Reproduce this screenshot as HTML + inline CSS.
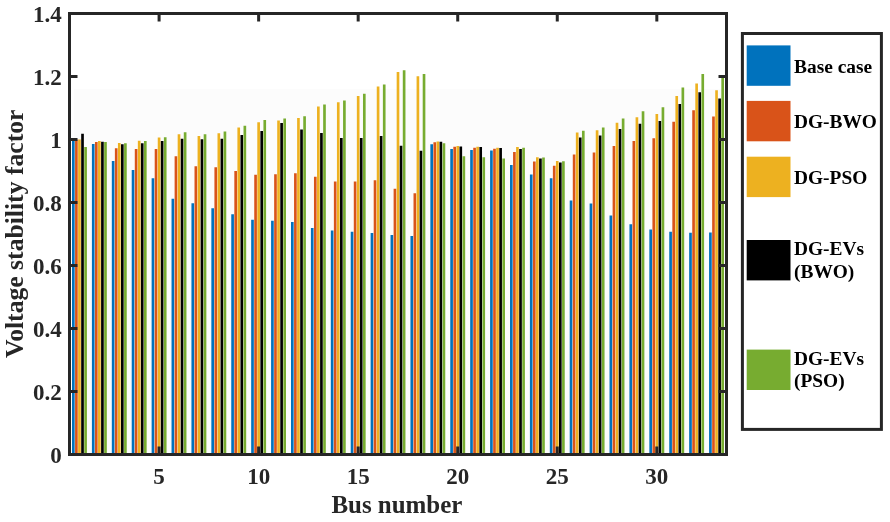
<!DOCTYPE html>
<html><head><meta charset="utf-8"><title>Voltage stability factor</title>
<style>html,body{margin:0;padding:0;background:#fff}svg{display:block}</style></head>
<body><svg width="890" height="522" viewBox="0 0 890 522">
<rect width="890" height="522" fill="#fff"/>
<rect x="74" y="89" width="651" height="365" fill="#fcfcfc"/>
<path fill="#0072BD" d="M72.00 454.5V140.44h2.66V454.5zM91.91 454.5V143.91h2.66V454.5zM111.82 454.5V160.92h2.66V454.5zM131.72 454.5V170.06h2.66V454.5zM151.63 454.5V178.25h2.66V454.5zM171.54 454.5V198.72h2.66V454.5zM191.45 454.5V203.13h2.66V454.5zM211.36 454.5V208.17h2.66V454.5zM231.27 454.5V214.16h2.66V454.5zM251.18 454.5V219.82h2.66V454.5zM271.09 454.5V220.77h2.66V454.5zM291.00 454.5V222.03h2.66V454.5zM310.91 454.5V228.02h2.66V454.5zM330.82 454.5V230.54h2.66V454.5zM350.72 454.5V231.80h2.66V454.5zM370.63 454.5V233.06h2.66V454.5zM390.54 454.5V234.95h2.66V454.5zM410.45 454.5V235.89h2.66V454.5zM430.36 454.5V144.23h2.66V454.5zM450.27 454.5V148.95h2.66V454.5zM470.18 454.5V149.89h2.66V454.5zM490.09 454.5V150.53h2.66V454.5zM510.00 454.5V165.01h2.66V454.5zM529.91 454.5V174.46h2.66V454.5zM549.82 454.5V178.25h2.66V454.5zM569.72 454.5V200.61h2.66V454.5zM589.63 454.5V203.44h2.66V454.5zM609.54 454.5V215.41h2.66V454.5zM629.45 454.5V224.24h2.66V454.5zM649.36 454.5V229.59h2.66V454.5zM669.27 454.5V231.80h2.66V454.5zM689.18 454.5V232.74h2.66V454.5zM709.09 454.5V232.43h2.66V454.5z"/>
<path fill="#D95319" d="M75.06 454.5V139.50h2.66V454.5zM94.97 454.5V142.02h2.66V454.5zM114.88 454.5V148.32h2.66V454.5zM134.79 454.5V148.95h2.66V454.5zM154.70 454.5V148.95h2.66V454.5zM174.61 454.5V156.19h2.66V454.5zM194.51 454.5V166.27h2.66V454.5zM214.42 454.5V167.22h2.66V454.5zM234.33 454.5V171.00h2.66V454.5zM254.24 454.5V174.78h2.66V454.5zM274.15 454.5V174.15h2.66V454.5zM294.06 454.5V173.20h2.66V454.5zM313.97 454.5V176.67h2.66V454.5zM333.88 454.5V181.39h2.66V454.5zM353.79 454.5V181.39h2.66V454.5zM373.70 454.5V180.13h2.66V454.5zM393.61 454.5V188.64h2.66V454.5zM413.51 454.5V193.37h2.66V454.5zM433.42 454.5V142.33h2.66V454.5zM453.33 454.5V146.75h2.66V454.5zM473.24 454.5V147.69h2.66V454.5zM493.15 454.5V148.63h2.66V454.5zM513.06 454.5V152.10h2.66V454.5zM532.97 454.5V161.55h2.66V454.5zM552.88 454.5V165.64h2.66V454.5zM572.79 454.5V154.62h2.66V454.5zM592.70 454.5V152.42h2.66V454.5zM612.61 454.5V146.12h2.66V454.5zM632.51 454.5V141.07h2.66V454.5zM652.42 454.5V138.24h2.66V454.5zM672.33 454.5V121.86h2.66V454.5zM692.24 454.5V110.20h2.66V454.5zM712.15 454.5V116.50h2.66V454.5z"/>
<path fill="#EDB120" d="M78.12 454.5V139.50h2.66V454.5zM98.03 454.5V141.07h2.66V454.5zM117.94 454.5V142.96h2.66V454.5zM137.85 454.5V140.76h2.66V454.5zM157.76 454.5V137.61h2.66V454.5zM177.67 454.5V134.15h2.66V454.5zM197.58 454.5V136.04h2.66V454.5zM217.49 454.5V133.20h2.66V454.5zM237.40 454.5V127.53h2.66V454.5zM257.30 454.5V122.18h2.66V454.5zM277.21 454.5V120.60h2.66V454.5zM297.12 454.5V118.08h2.66V454.5zM317.03 454.5V106.43h2.66V454.5zM336.94 454.5V102.33h2.66V454.5zM356.85 454.5V96.03h2.66V454.5zM376.76 454.5V86.58h2.66V454.5zM396.67 454.5V72.09h2.66V454.5zM416.58 454.5V76.19h2.66V454.5zM436.49 454.5V141.39h2.66V454.5zM456.40 454.5V146.12h2.66V454.5zM476.30 454.5V146.75h2.66V454.5zM496.21 454.5V147.69h2.66V454.5zM516.12 454.5V147.06h2.66V454.5zM536.03 454.5V157.14h2.66V454.5zM555.94 454.5V160.92h2.66V454.5zM575.85 454.5V132.57h2.66V454.5zM595.76 454.5V130.37h2.66V454.5zM615.67 454.5V122.81h2.66V454.5zM635.58 454.5V117.13h2.66V454.5zM655.49 454.5V113.99h2.66V454.5zM675.40 454.5V96.03h2.66V454.5zM695.30 454.5V83.43h2.66V454.5zM715.21 454.5V90.36h2.66V454.5z"/>
<path fill="#000000" d="M81.19 454.5V133.83h2.66V454.5zM101.10 454.5V141.70h2.66V454.5zM121.00 454.5V144.23h2.66V454.5zM140.91 454.5V143.28h2.66V454.5zM160.82 454.5V141.07h2.66V454.5zM180.73 454.5V138.87h2.66V454.5zM200.64 454.5V139.19h2.66V454.5zM220.55 454.5V138.87h2.66V454.5zM240.46 454.5V135.09h2.66V454.5zM260.37 454.5V131.00h2.66V454.5zM280.28 454.5V123.12h2.66V454.5zM300.19 454.5V129.42h2.66V454.5zM320.10 454.5V132.89h2.66V454.5zM340.00 454.5V137.93h2.66V454.5zM359.91 454.5V137.93h2.66V454.5zM379.82 454.5V136.04h2.66V454.5zM399.73 454.5V145.80h2.66V454.5zM419.64 454.5V150.84h2.66V454.5zM439.55 454.5V141.70h2.66V454.5zM459.46 454.5V146.43h2.66V454.5zM479.37 454.5V147.06h2.66V454.5zM499.28 454.5V148.00h2.66V454.5zM519.19 454.5V148.95h2.66V454.5zM539.10 454.5V158.40h2.66V454.5zM559.00 454.5V162.50h2.66V454.5zM578.91 454.5V137.61h2.66V454.5zM598.82 454.5V135.41h2.66V454.5zM618.73 454.5V129.11h2.66V454.5zM638.64 454.5V123.75h2.66V454.5zM658.55 454.5V120.92h2.66V454.5zM678.46 454.5V103.91h2.66V454.5zM698.37 454.5V92.25h2.66V454.5zM718.28 454.5V98.55h2.66V454.5z"/>
<path fill="#77AC30" d="M84.25 454.5V147.06h2.66V454.5zM104.16 454.5V142.02h2.66V454.5zM124.07 454.5V143.28h2.66V454.5zM143.98 454.5V141.07h2.66V454.5zM163.89 454.5V137.30h2.66V454.5zM183.79 454.5V132.26h2.66V454.5zM203.70 454.5V134.15h2.66V454.5zM223.61 454.5V131.62h2.66V454.5zM243.52 454.5V125.64h2.66V454.5zM263.43 454.5V119.97h2.66V454.5zM283.34 454.5V118.40h2.66V454.5zM303.25 454.5V116.19h2.66V454.5zM323.16 454.5V104.54h2.66V454.5zM343.07 454.5V100.44h2.66V454.5zM362.98 454.5V93.82h2.66V454.5zM382.89 454.5V84.38h2.66V454.5zM402.79 454.5V70.20h2.66V454.5zM422.70 454.5V73.98h2.66V454.5zM442.61 454.5V143.28h2.66V454.5zM462.52 454.5V156.19h2.66V454.5zM482.43 454.5V157.14h2.66V454.5zM502.34 454.5V158.40h2.66V454.5zM522.25 454.5V147.69h2.66V454.5zM542.16 454.5V157.46h2.66V454.5zM562.07 454.5V161.23h2.66V454.5zM581.98 454.5V130.68h2.66V454.5zM601.89 454.5V127.53h2.66V454.5zM621.79 454.5V118.40h2.66V454.5zM641.70 454.5V111.15h2.66V454.5zM661.61 454.5V107.37h2.66V454.5zM681.52 454.5V87.52h2.66V454.5zM701.43 454.5V73.98h2.66V454.5zM721.34 454.5V78.07h2.66V454.5z"/>
<rect x="69.5" y="13.5" width="657.0" height="441.0" fill="none" stroke="#262626" stroke-width="3"/>
<path fill="none" stroke="#262626" stroke-width="3" d="M159.09 454.5v-8M159.09 13.5v8M258.64 454.5v-8M258.64 13.5v8M358.18 454.5v-8M358.18 13.5v8M457.73 454.5v-8M457.73 13.5v8M557.27 454.5v-8M557.27 13.5v8M656.82 454.5v-8M656.82 13.5v8M69.5 454.50h8M726.5 454.50h-8M69.5 391.50h8M726.5 391.50h-8M69.5 328.50h8M726.5 328.50h-8M69.5 265.50h8M726.5 265.50h-8M69.5 202.50h8M726.5 202.50h-8M69.5 139.50h8M726.5 139.50h-8M69.5 76.50h8M726.5 76.50h-8M69.5 13.50h8M726.5 13.50h-8"/>
<g fill="#262626" font-family="'Liberation Serif', 'Times New Roman', serif" font-weight="bold"><text x="159.09" y="484" text-anchor="middle" font-size="23">5</text><text x="258.64" y="484" text-anchor="middle" font-size="23">10</text><text x="358.18" y="484" text-anchor="middle" font-size="23">15</text><text x="457.73" y="484" text-anchor="middle" font-size="23">20</text><text x="557.27" y="484" text-anchor="middle" font-size="23">25</text><text x="656.82" y="484" text-anchor="middle" font-size="23">30</text><text x="61.8" y="462.70" text-anchor="end" font-size="23">0</text><text x="61.8" y="399.70" text-anchor="end" font-size="23">0.2</text><text x="61.8" y="336.70" text-anchor="end" font-size="23">0.4</text><text x="61.8" y="273.70" text-anchor="end" font-size="23">0.6</text><text x="61.8" y="210.70" text-anchor="end" font-size="23">0.8</text><text x="61.8" y="147.70" text-anchor="end" font-size="23">1</text><text x="61.8" y="84.70" text-anchor="end" font-size="23">1.2</text><text x="61.8" y="21.70" text-anchor="end" font-size="23">1.4</text><text x="396.9" y="513" text-anchor="middle" font-size="25" textLength="131" lengthAdjust="spacingAndGlyphs">Bus number</text><text transform="translate(23.2 233.8) rotate(-90)" text-anchor="middle" font-size="25" textLength="248.5" lengthAdjust="spacingAndGlyphs">Voltage stability factor</text></g>
<rect x="742.4" y="33.5" width="139" height="395.9" fill="#fff" stroke="#262626" stroke-width="3"/>
<rect x="746.7" y="45.4" width="43.8" height="40.4" fill="#0072BD"/>
<rect x="746.7" y="100.9" width="43.8" height="40.4" fill="#D95319"/>
<rect x="746.7" y="156.7" width="43.8" height="40.4" fill="#EDB120"/>
<rect x="746.7" y="240" width="43.8" height="40.4" fill="#000000"/>
<rect x="746.7" y="349.6" width="43.8" height="40.4" fill="#77AC30"/>
<g fill="#000" font-family="'Liberation Serif', 'Times New Roman', serif" font-weight="bold" font-size="19.4"><text x="794" y="72.8">Base case</text><text x="794" y="128.3">DG-BWO</text><text x="794" y="183.9">DG-PSO</text><text x="794" y="255.1">DG-EVs</text><text x="794" y="278.2">(BWO)</text><text x="794" y="365.3">DG-EVs</text><text x="794" y="386.9">(PSO)</text></g>
</svg></body></html>
